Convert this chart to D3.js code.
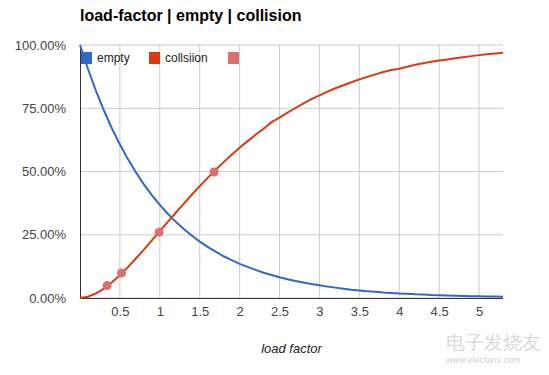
<!DOCTYPE html>
<html>
<head>
<meta charset="utf-8">
<script src="https://cdn.jsdelivr.net/npm/d3@7"></script>
<style>
  body { margin: 0; background: #fff; }
  text { font-family: Arial, "Liberation Sans", sans-serif; }
</style>
</head>
<body>
<div id="chart"></div>
<script>
var margin = { top: 45, right: 46, bottom: 77, left: 80 },
  width = 549 - margin.left - margin.right,
  height = 375 - margin.top - margin.bottom;

// load factor samples (x) and the two curves
const loadFactor = [0, 0.1, 0.2, 0.3, 0.4, 0.5, 0.6, 0.7, 0.8, 0.9, 1.0, 1.1, 1.2, 1.3, 1.4, 1.5, 1.6, 1.7, 1.8, 1.9,
  2.0, 2.1, 2.2, 2.3, 2.4, 2.5, 2.6, 2.7, 2.8, 2.9, 3.0, 3.1, 3.2, 3.3, 3.4, 3.5, 3.6, 3.7, 3.8, 3.9,
  4.0, 4.1, 4.2, 4.3, 4.4, 4.5, 4.6, 4.7, 4.8, 4.9, 5.0, 5.1, 5.2, 5.3]
const empty = [1.000, 0.905, 0.819, 0.741, 0.670, 0.607, 0.549, 0.497, 0.449, 0.407, 0.368, 0.333, 0.301, 0.273, 0.247, 0.223, 0.202, 0.183, 0.165, 0.150,
  0.135, 0.123, 0.111, 0.100, 0.091, 0.082, 0.074, 0.067, 0.061, 0.055, 0.050, 0.045, 0.041, 0.037, 0.033, 0.030, 0.027, 0.025, 0.022, 0.020,
  0.018, 0.017, 0.015, 0.014, 0.012, 0.011, 0.010, 0.009, 0.008, 0.007, 0.007, 0.006, 0.006, 0.005]
const collision = [0.000, 0.005, 0.018, 0.037, 0.062, 0.090, 0.122, 0.156, 0.191, 0.228, 0.264, 0.301, 0.337, 0.373, 0.408, 0.442, 0.475, 0.507, 0.537, 0.566,
  0.594, 0.620, 0.645, 0.669, 0.695, 0.713, 0.733, 0.751, 0.769, 0.786, 0.801, 0.816, 0.829, 0.841, 0.853, 0.864, 0.874, 0.884, 0.893, 0.901,
  0.906, 0.914, 0.922, 0.928, 0.934, 0.939, 0.943, 0.948, 0.952, 0.956, 0.960, 0.963, 0.966, 0.969]
// highlighted points
const markX = [0.34, 0.52, 0.99, 1.68]
const markY = [0.049, 0.099, 0.26, 0.498]

const seriesNames = ["empty", "collsiion", ""]
const seriesColors = ["#3366cc", "#dc3912", "#d9706e"]
const xTicks = [0.5, 1, 1.5, 2, 2.5, 3, 3.5, 4, 4.5, 5]
const yTicks = [0, 0.25, 0.5, 0.75, 1]

var svg = d3.select("#chart").append("svg")
  .attr("width", width + margin.left + margin.right)
  .attr("height", height + margin.top + margin.bottom)

// Title
svg.append("text")
  .attr("x", 80)
  .attr("y", 21)
  .attr("font-size", "16px")
  .attr("font-weight", "bold")
  .attr("fill", "#000")
  .text("load-factor | empty | collision")

var g = svg.append("g")
  .attr("transform", "translate(" + margin.left + "," + margin.top + ")")

// Scales
var x = d3.scaleLinear().domain([0, 5.3]).range([0, width])
var y = d3.scaleLinear().domain([0, 1]).range([height, 0])

// Gridlines
g.selectAll(".vgrid").data(xTicks).enter().append("line")
  .attr("x1", d => x(d)).attr("x2", d => x(d))
  .attr("y1", 0).attr("y2", height)
  .attr("stroke", "#cccccc").attr("stroke-width", 1)
g.selectAll(".hgrid").data(yTicks).enter().append("line")
  .attr("x1", 0).attr("x2", width)
  .attr("y1", d => y(d)).attr("y2", d => y(d))
  .attr("stroke", "#cccccc").attr("stroke-width", 1)

// Axes (labels only, no tick marks)
var yAxis = d3.axisLeft(y).tickValues(yTicks).tickSize(0).tickPadding(14)
  .tickFormat(d => d3.format(".2f")(d * 100) + "%")
var yAxisGroup = g.append("g").call(yAxis)
yAxisGroup.select(".domain").remove()
yAxisGroup.selectAll("text").attr("font-size", "13px").attr("fill", "#444").attr("font-family", "Arial, 'Liberation Sans', sans-serif")

var xAxis = d3.axisBottom(x).tickValues(xTicks).tickSize(0).tickPadding(9)
  .tickFormat(d => d)
var xAxisGroup = g.append("g").attr("transform", "translate(0," + height + ")").call(xAxis)
xAxisGroup.select(".domain").remove()
xAxisGroup.selectAll("text").attr("font-size", "13px").attr("fill", "#444").attr("font-family", "Arial, 'Liberation Sans', sans-serif")

// Baseline and left border
g.append("line").attr("x1", 0).attr("x2", width).attr("y1", height + 0.5).attr("y2", height + 0.5)
  .attr("stroke", "#333").attr("stroke-width", 1)
g.append("line").attr("x1", 0.5).attr("x2", 0.5).attr("y1", 0).attr("y2", height)
  .attr("stroke", "#333").attr("stroke-width", 1)

// X axis title
g.append("text")
  .attr("x", width / 2)
  .attr("y", height + 55)
  .attr("text-anchor", "middle")
  .attr("font-size", "13px")
  .attr("font-style", "italic")
  .attr("fill", "#222")
  .text("load factor")

// Lines
var line = d3.line().x(d => x(d[0])).y(d => y(d[1]))
g.append("path")
  .datum(loadFactor.map((d, i) => [d, empty[i]]))
  .attr("d", line)
  .attr("fill", "none")
  .attr("stroke", seriesColors[0])
  .attr("stroke-width", 2)
g.append("path")
  .datum(loadFactor.map((d, i) => [d, collision[i]]))
  .attr("d", line)
  .attr("fill", "none")
  .attr("stroke", seriesColors[1])
  .attr("stroke-width", 2)

// Marker points
g.selectAll(".mark").data(markX).enter().append("circle")
  .attr("cx", d => x(d))
  .attr("cy", (d, i) => y(markY[i]))
  .attr("r", 4.5)
  .attr("fill", seriesColors[2])

// Legend
var legendX = [1, 69, 148]
var legend = g.selectAll(".legend").data(seriesNames).enter().append("g")
  .attr("transform", (d, i) => "translate(" + legendX[i] + ",7)")
legend.append("rect")
  .attr("width", 11).attr("height", 12)
  .attr("fill", (d, i) => seriesColors[i])
legend.append("text")
  .attr("x", 16).attr("y", 10)
  .attr("font-size", "12px")
  .attr("fill", "#222")
  .text(d => d)

// Watermark
svg.append("text")
  .attr("x", 446).attr("y", 349)
  .attr("font-size", "19px")
  .attr("font-family", "'Noto Sans CJK SC', sans-serif")
  .attr("fill", "#d8d8d8")
  .text("电子发烧友")
svg.append("text")
  .attr("x", 446).attr("y", 363)
  .attr("font-size", "9px")
  .attr("fill", "#d0d0d0")
  .text("www.elecfans.com")
</script>
</body>
</html>
